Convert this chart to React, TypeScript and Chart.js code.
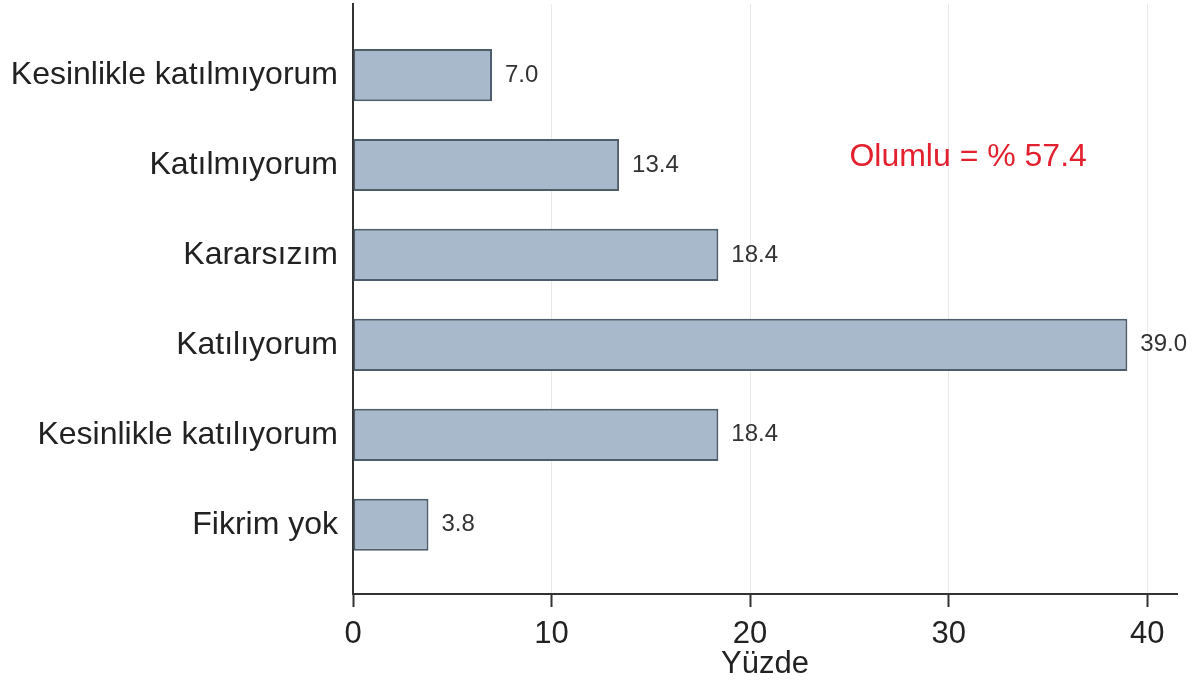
import React, { useEffect, useRef } from "react";
import { Chart, registerables } from "chart.js";

Chart.register(...registerables);

const categories = [
  "Kesinlikle katılmıyorum",
  "Katılmıyorum",
  "Kararsızım",
  "Katılıyorum",
  "Kesinlikle katılıyorum",
  "Fikrim yok",
];
const percentages = [7.0, 13.4, 18.4, 39.0, 18.4, 3.8];
const xTicks = [0, 10, 20, 30, 40];
const xTitle = "Yüzde";
const noteText = "Olumlu = % 57.4";
const notePos = { x: 25.0, y: 0.91 };

const Y_MIN = -0.79;
const Y_MAX = 5.77;

const FONT = "'Liberation Sans', Arial, Helvetica, sans-serif";

const labelPlugin = {
  id: "valueLabels",
  afterDatasetsDraw(chart: any) {
    const { ctx } = chart;
    const xs = chart.scales.x;
    const ys = chart.scales.y;
    ctx.save();
    ctx.font = `24px ${FONT}`;
    ctx.fillStyle = "#333333";
    ctx.textAlign = "left";
    ctx.textBaseline = "middle";
    percentages.forEach((v, i) => {
      ctx.fillText(v.toFixed(1), xs.getPixelForValue(v) + 13, ys.getPixelForValue(i));
    });
    ctx.font = `32px ${FONT}`;
    ctx.fillStyle = "#e3202e";
    ctx.fillText(noteText, xs.getPixelForValue(notePos.x), ys.getPixelForValue(notePos.y));
    ctx.restore();
  },
};

export default function App() {
  const canvasRef = useRef<HTMLCanvasElement | null>(null);

  useEffect(() => {
    if (!canvasRef.current) return;
    const chart = new Chart(canvasRef.current, {
      type: "bar",
      data: {
        datasets: [
          {
            data: percentages.map((v, i) => ({ x: v, y: i })),
            backgroundColor: "#a8b9cc",
            borderColor: "#4e5d6c",
            borderWidth: 2,
            borderSkipped: false,
            barPercentage: 0.58,
            categoryPercentage: 1,
          },
        ],
      },
      options: {
        indexAxis: "y",
        animation: false,
        responsive: true,
        maintainAspectRatio: false,
        layout: { padding: { top: 4, right: 16, left: 0, bottom: 0 } },
        plugins: {
          legend: { display: false },
          tooltip: { enabled: false },
          title: { display: false },
        },
        scales: {
          y: {
            type: "linear",
            reverse: true,
            offset: false,
            min: Y_MIN,
            max: Y_MAX,
            bounds: "data",
            grace: 0,
            afterBuildTicks: (axis: any) => {
              axis.ticks = categories.map((_, i) => ({ value: i }));
              axis.min = Y_MIN;
              axis.max = Y_MAX;
            },
            afterFit: (axis: any) => {
              axis.width = 353;
              axis.paddingTop = 0;
              axis.paddingBottom = 0;
            },
            ticks: {
              callback: (v: any) => categories[v as number] ?? "",
              font: { family: FONT, size: 32 },
              color: "#222222",
              padding: 15,
            },
            grid: { display: false, drawTicks: false, offset: false },
            border: { display: true, color: "#333333", width: 2 },
          },
          x: {
            type: "linear",
            min: 0,
            max: 41.5,
            bounds: "data",
            offset: false,
            afterBuildTicks: (axis: any) => {
              axis.ticks = xTicks.map((v) => ({ value: v }));
              axis.min = 0;
              axis.max = 41.5;
            },
            afterFit: (axis: any) => {
              axis.height = 88;
              axis.paddingLeft = 0;
              axis.paddingRight = 0;
            },
            ticks: {
              font: { family: FONT, size: 31 },
              color: "#222222",
              padding: 9,
              maxRotation: 0,
            },
            grid: {
              color: (c: any) => (c.tick && c.tick.value === 0 ? "rgba(0,0,0,0)" : "#e9e9e9"),
              lineWidth: 1,
              drawTicks: true,
              tickLength: 13,
              tickColor: "#333333",
              tickWidth: 2,
            },
            border: { display: true, color: "#333333", width: 2 },
            title: {
              display: true,
              text: xTitle,
              font: { family: FONT, size: 31, lineHeight: 1 },
              color: "#222222",
              padding: { top: 0, bottom: 2 },
            },
          },
        },
      },
      plugins: [labelPlugin],
    });
    return () => chart.destroy();
  }, []);

  return (
    <div style={{ position: "fixed", left: 0, top: 0, width: 1193, height: 682, background: "#ffffff" }}>
      <canvas ref={canvasRef} />
    </div>
  );
}
